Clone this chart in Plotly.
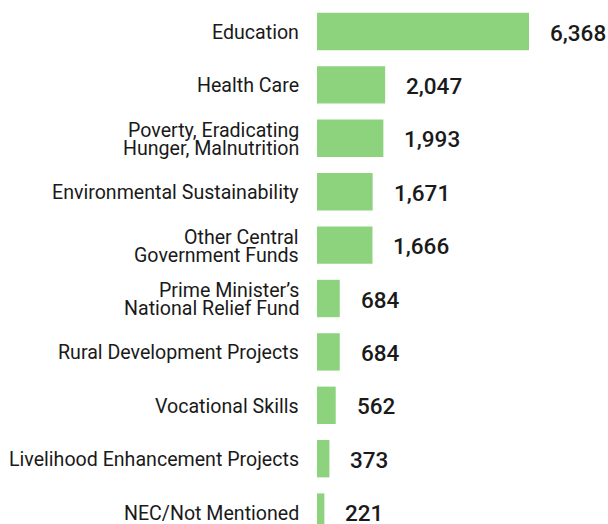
import plotly.graph_objects as go

categories = [
    "Education",
    "Health Care",
    "Poverty, Eradicating<br>Hunger, Malnutrition",
    "Environmental Sustainability",
    "Other Central<br>Government Funds",
    "Prime Minister’s<br>National Relief Fund",
    "Rural Development Projects",
    "Vocational Skills",
    "Livelihood Enhancement Projects",
    "NEC/Not Mentioned",
]
values = [6368, 2047, 1993, 1671, 1666, 684, 684, 562, 373, 221]
value_labels = ["6,368", "2,047", "1,993", "1,671", "1,666", "684", "684", "562", "373", "221"]

BAR_COLOR = "#8dd37e"
FONT = "Roboto"
TEXT_COLOR = "#1a1a1a"

fig = go.Figure()
fig.add_trace(go.Bar(
    x=values,
    y=categories,
    orientation="h",
    marker=dict(color=BAR_COLOR, line=dict(width=0)),
    hoverinfo="skip",
))

# value labels to the right of bars
for cat, val, lab in zip(categories, values, value_labels):
    fig.add_annotation(
        x=val, y=cat, text=lab, showarrow=False,
        xanchor="left", yanchor="middle", xshift=19, yshift=-1,
        font=dict(family=FONT, size=22.5, color=TEXT_COLOR, weight=500),
    )

# category labels (lines set tightly, like the original)
LINE_GAP = 18
for cat in categories:
    lines = cat.split("<br>")
    n = len(lines)
    for i, line in enumerate(lines):
        offset = ((n - 1) / 2 - i) * LINE_GAP
        fig.add_annotation(
            x=0, xref="paper", y=cat, yref="y", text=line, showarrow=False,
            xanchor="right", yanchor="middle", xshift=-16, yshift=offset - 1,
            font=dict(family=FONT, size=19.6, color=TEXT_COLOR),
        )

fig.update_layout(
    width=608,
    height=524,
    margin=dict(l=317, r=0, t=0, b=0),
    paper_bgcolor="white",
    plot_bgcolor="white",
    bargap=0.3,
    showlegend=False,
    font=dict(family=FONT, size=19, color=TEXT_COLOR),
)
fig.update_xaxes(range=[0, 8740], visible=False, showgrid=False, zeroline=False)
fig.update_yaxes(
    categoryorder="array",
    categoryarray=categories,
    range=[9.223, -0.59],
    showgrid=False, zeroline=False, showline=False,
    ticks="", showticklabels=False,
)

fig.write_html(
    "out.html",
    config={"displayModeBar": False},
    post_script="document.body.style.margin='0';document.body.style.overflow='hidden';",
)
